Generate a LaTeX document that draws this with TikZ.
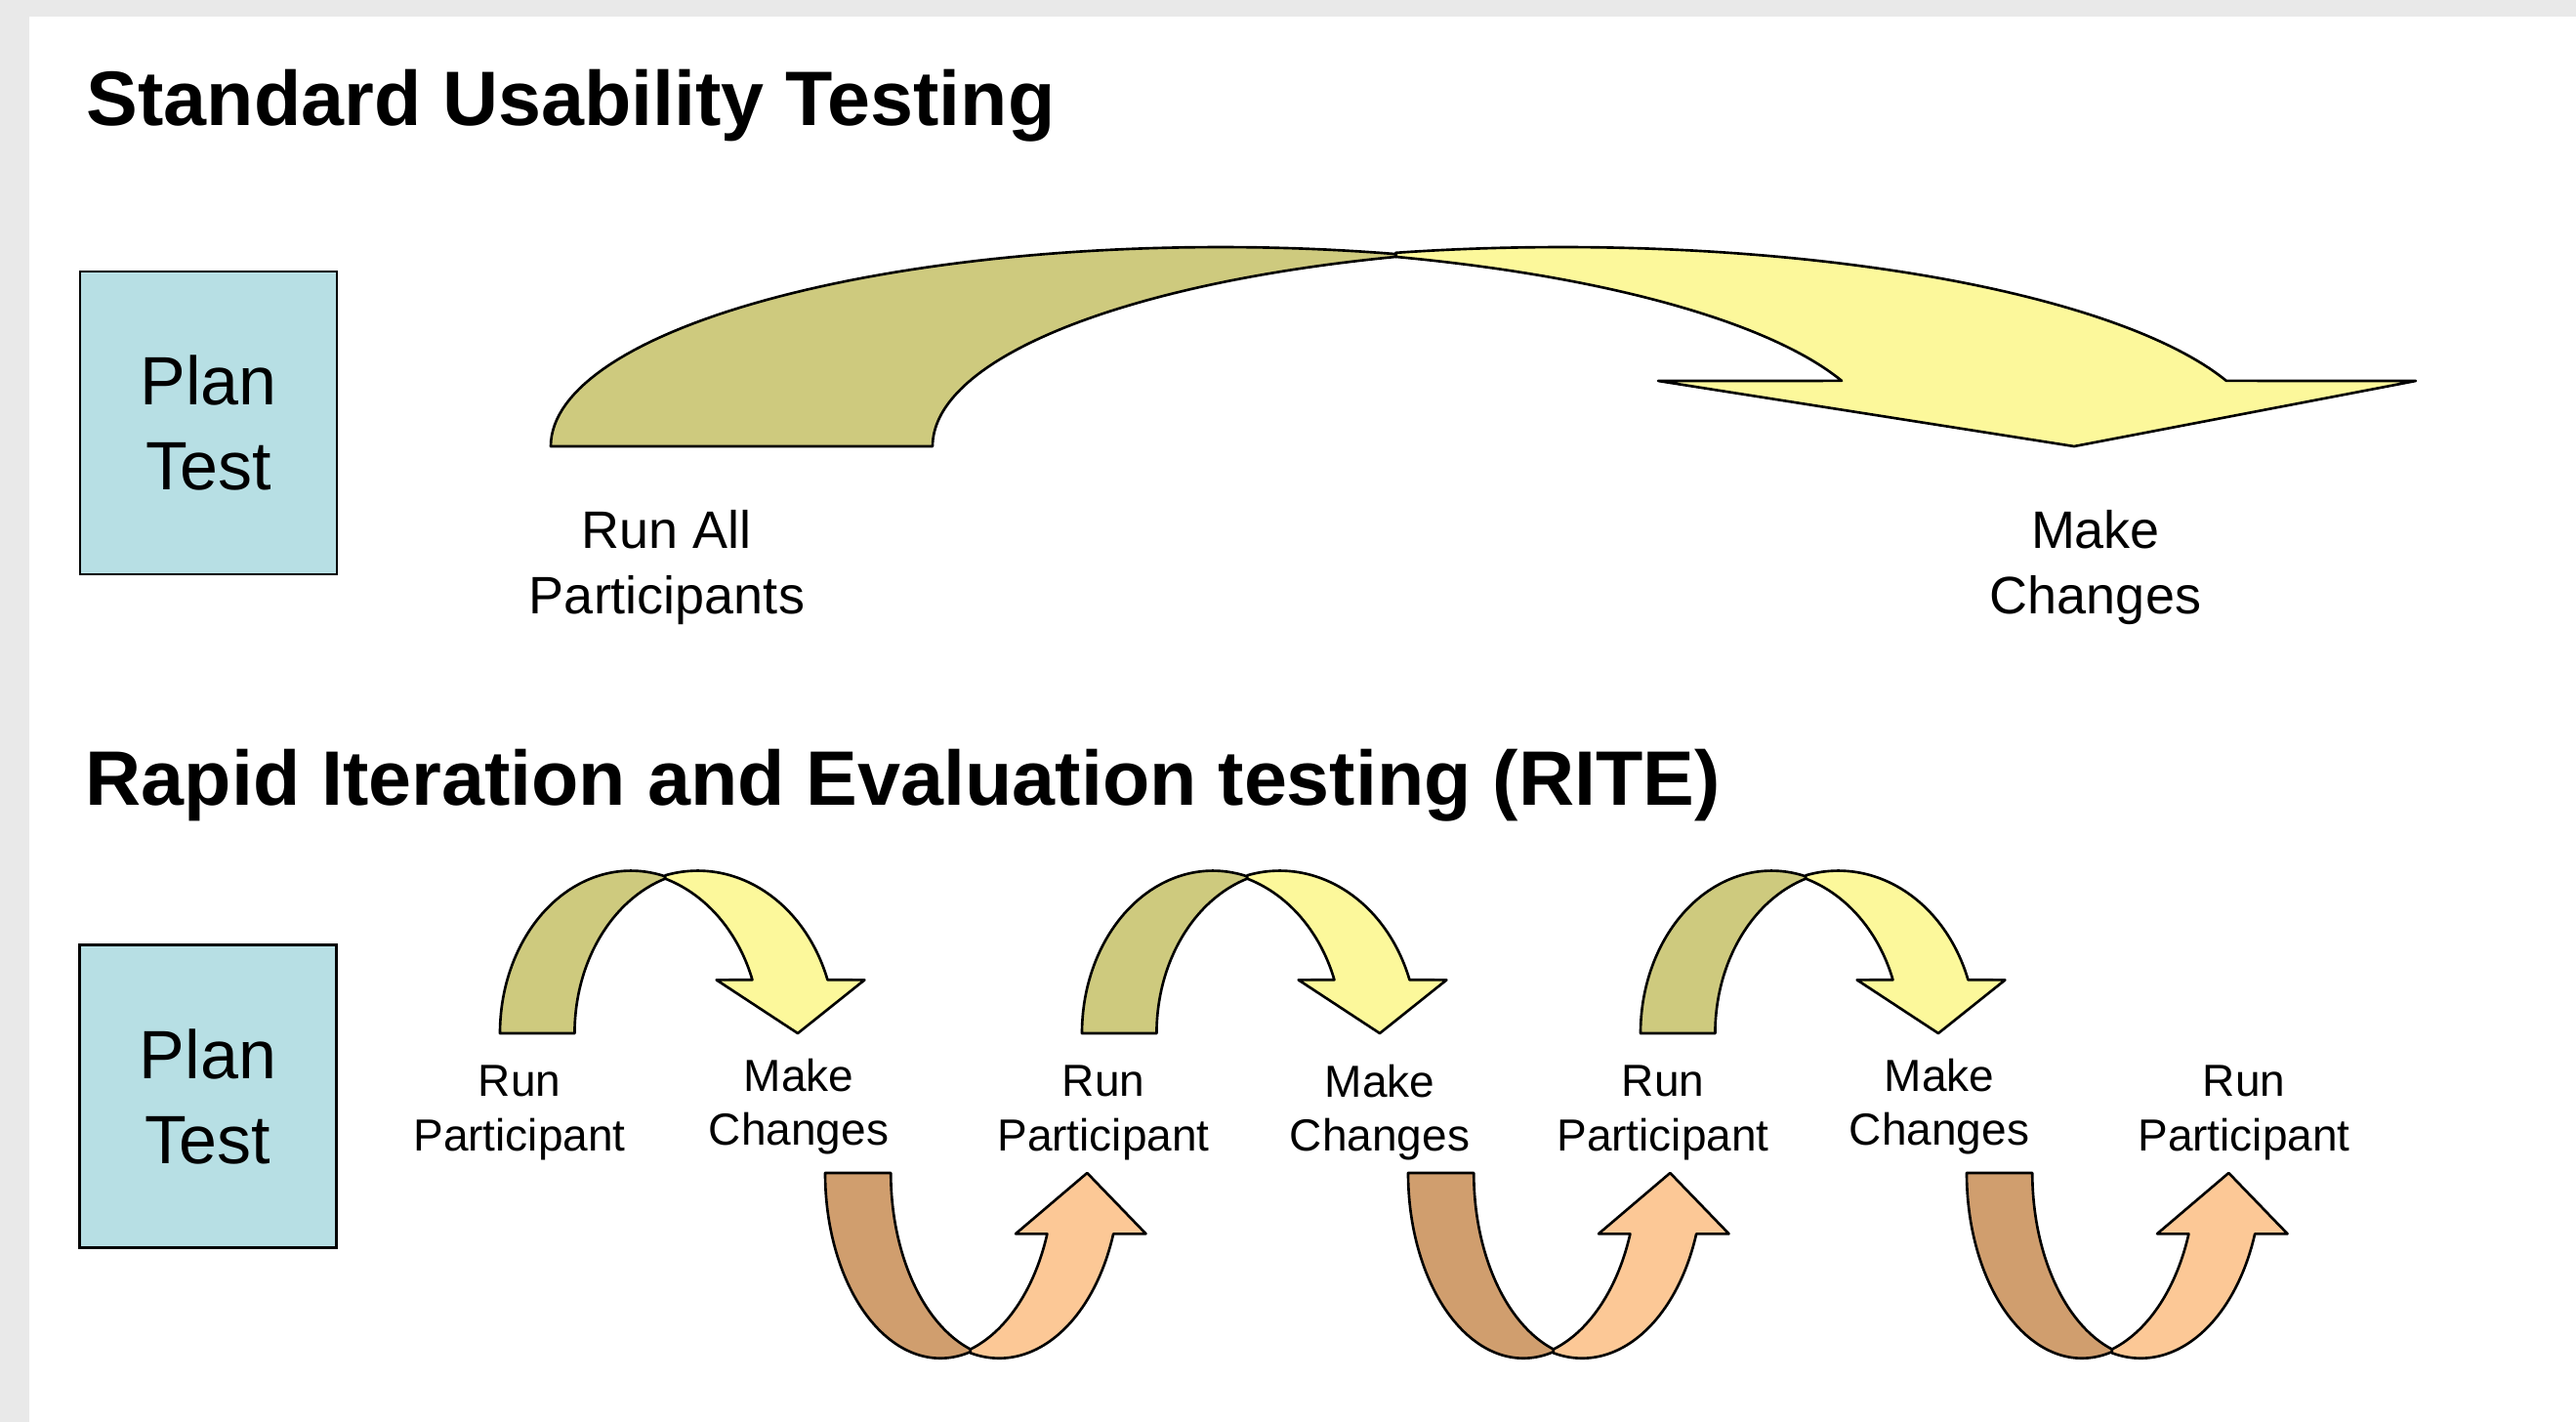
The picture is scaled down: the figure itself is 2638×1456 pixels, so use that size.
\documentclass[tikz,border=0pt]{standalone}
\usepackage{fontspec}
\setmainfont{Liberation Sans}
\definecolor{bgray}{RGB}{233,233,233}
\definecolor{boxblue}{RGB}{183,223,228}
\definecolor{olivedk}{RGB}{206,202,126}
\definecolor{yellowlt}{RGB}{252,248,155}
\definecolor{tandk}{RGB}{208,158,110}
\definecolor{peachlt}{RGB}{252,200,150}
\tikzset{
  ttl/.style={font=\fontsize{22.5}{26}\selectfont\bfseries, anchor=base west, inner sep=0pt},
  toplbl/.style={font=\fontsize{15.36}{18}\selectfont, anchor=base, inner sep=0pt},
  botlbl/.style={font=\fontsize{13.09}{16}\selectfont, anchor=base, inner sep=0pt},
  planbox/.style={draw=black, line width=0.8pt, fill=boxblue, minimum width=26.3mm, minimum height=31mm,
     inner sep=0pt, align=center, font=\fontsize{19.92}{24.75}\selectfont},
  arrline/.style={draw=black, line width=0.75pt, line join=round},
}
\newcommand{\curvedarrowshape}[2]{%
  \filldraw[fill=#1, arrline]
    plot[domain=180:74.8, samples=70] ({686+686*cos(\x)}, {-204*sin(\x)})
    -- plot[domain=107.9:180, samples=70] ({1077+686*cos(\x)}, {-204*sin(\x)})
    -- cycle;
  \filldraw[fill=#2, arrline]
    plot[domain=103.7:19.2, samples=70] ({1036+720*cos(\x)}, {-204*sin(\x)})
    -- (1910,-67) -- (1560,0) -- (1134,-67)
    -- plot[domain=19.2:72, samples=70] ({644+718*cos(\x)}, {-204*sin(\x)})
    -- cycle;
}
\begin{document}
\begin{tikzpicture}[x=0.1mm, y=-0.1mm]
  % background
  \fill[bgray] (0,0) rectangle (2638,1456);
  \fill[white] (30,17) rectangle (2638,1456);
  \useasboundingbox (0,0) rectangle (2638,1456);

  % titles
  \node[ttl] (title1) at (88,128) {Standard Usability Testing};
  \node[ttl] (title2) at (87,824) {Rapid Iteration and Evaluation testing (RITE)};

  % plan boxes
  \node[planbox] (plan1) at (213.5,433) {Plan\\Test};
  \node[planbox] (plan2) at (213,1122.5) {Plan\\Test};

  % big arrow (standard)
  \begin{scope}[shift={(564,457)}]
    \curvedarrowshape{olivedk}{yellowlt}
  \end{scope}

  % small top arrows (RITE)
  \foreach \dx in {0,596,1168}{
    \begin{scope}[shift={(512+\dx,1058)}, xscale=0.1955, yscale=0.816]
      \curvedarrowshape{olivedk}{yellowlt}
    \end{scope}
  }
  % small bottom arrows (RITE)
  \foreach \dx in {0,597,1169}{
    \begin{scope}[shift={(845+\dx,1201)}, xscale=0.172, yscale=-0.93]
      \curvedarrowshape{tandk}{peachlt}
    \end{scope}
  }

  % top labels
  \node[toplbl] (runall1) at (683,561) {Run All};
  \node[toplbl] (runall2) at (683,628) {Participants};
  \node[toplbl] (make1) at (2146,561) {Make};
  \node[toplbl] (make2) at (2146,628) {Changes};

  % bottom labels
  \node[botlbl] (r1a) at (532,1122) {Run};
  \node[botlbl] (r1b) at (532,1178) {Participant};
  \node[botlbl] (m1a) at (818,1117) {Make};
  \node[botlbl] (m1b) at (818,1172) {Changes};
  \node[botlbl] (r2a) at (1130,1122) {Run};
  \node[botlbl] (r2b) at (1130,1178) {Participant};
  \node[botlbl] (m2a) at (1413,1123) {Make};
  \node[botlbl] (m2b) at (1413,1178) {Changes};
  \node[botlbl] (r3a) at (1703,1122) {Run};
  \node[botlbl] (r3b) at (1703,1178) {Participant};
  \node[botlbl] (m3a) at (1986,1117) {Make};
  \node[botlbl] (m3b) at (1986,1172) {Changes};
  \node[botlbl] (r4a) at (2298,1122) {Run};
  \node[botlbl] (r4b) at (2298,1178) {Participant};
\end{tikzpicture}
\end{document}
